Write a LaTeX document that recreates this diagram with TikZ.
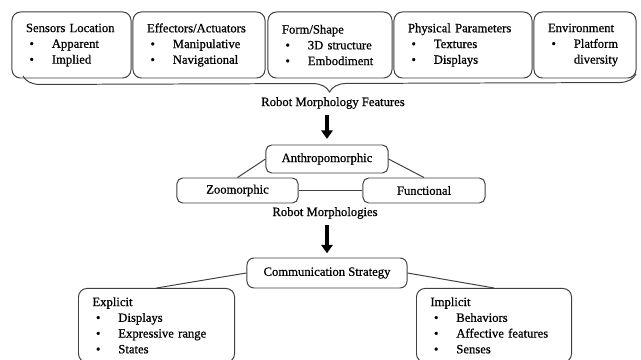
\documentclass[tikz,border=0pt]{standalone}
\usepackage{fontspec}
\setmainfont{Liberation Serif}[FakeBold=0.7]
\usepackage{tikz}
\usetikzlibrary{arrows.meta,decorations.pathreplacing}

\newcommand{\bitem}[1]{\makebox[18.4pt][l]{\hspace{2.5pt}\textbullet}#1}
\newcommand{\bcont}[1]{\hspace*{18.4pt}#1}

\begin{document}
\begin{tikzpicture}[x=0.025cm,y=-0.025cm,
  every node/.style={font=\fontsize{9}{11.2}\selectfont},
  featbox/.style={draw=black!75,line width=0.7pt,rounded corners=6pt,align=left,inner xsep=0.35cm,inner ysep=0pt,minimum height=1.65cm},
  morphbox/.style={draw=black!75,line width=0.7pt,rounded corners=4pt,inner sep=0pt,minimum height=0.625cm,minimum width=3.05cm},
  stratbox/.style={draw=black!75,line width=0.7pt,rounded corners=6pt,align=left,inner xsep=0.35cm,inner ysep=0.22cm,anchor=north west},
  link/.style={draw=black!75,line width=0.7pt},
  bigarrow/.style={line width=2.5pt,-{Triangle[width=8pt,length=6pt]}}]
\useasboundingbox (0,0) rectangle (641,360);
\clip (0,0) rectangle (641,360);
\fill[white] (0,0) rectangle (641,360);

% features
\node[featbox,text width=2.275cm] (sensors) at (71.5,45) {Sensors Location\\\bitem{Apparent}\\\bitem{Implied}};
\node[featbox,text width=2.6cm] (effectors) at (199,45) {Effectors/Actuators\\\bitem{Manipulative}\\\bitem{Navigational}};
\node[featbox,text width=2.4cm] (form) at (330,45) {Form/Shape\\\bitem{3D structure}\\\bitem{Embodiment}};
\node[featbox,text width=2.75cm] (physical) at (463,45) {Physical Parameters\\\bitem{Textures}\\\bitem{Displays}};
\node[featbox,text width=1.85cm] (environ) at (585,45) {Environment\\\bitem{Platform}\\\bcont{diversity}};

\coordinate (braceL) at (23,76);
\coordinate (braceR) at (636,74);
\draw[black!75,line width=0.7pt,decorate,decoration={brace,mirror,amplitude=0.425cm}] (braceL) -- (braceR);
\node (featlab) at (333,103) {Robot Morphology Features};

% morphologies
\node[morphbox,minimum height=0.7cm] (anthro) at (327,159) {Anthropomorphic};
\node[morphbox,minimum width=3.025cm] (zoo) at (237.5,190.5) {Zoomorphic};
\node[morphbox] (func) at (424,190.5) {Functional};
\node (morphlab) at (325,213) {Robot Morphologies};

\draw[link] (anthro.west) -- (zoo.north);
\draw[link] (anthro.east) -- (func.north);
\draw[link] (zoo.east) -- (func.west);

\draw[bigarrow,shorten <=1pt,shorten >=4pt] (featlab.south -| anthro.north) -- (anthro.north);

% strategy
\node[morphbox,minimum width=4cm,minimum height=0.75cm,rounded corners=5pt] (comm) at (327,273) {Communication Strategy};
\node[stratbox,text width=3.2cm] (expl) at (78,288) {Explicit\\\bitem{Displays}\\\bitem{Expressive range}\\\bitem{States}};
\node[stratbox,text width=3.175cm] (impl) at (416,288) {Implicit\\\bitem{Behaviors}\\\bitem{Affective features}\\\bitem{Senses}};

\draw[link] (comm.west) -- (expl.north);
\draw[link] (comm.east) -- (impl.north);

\draw[bigarrow,shorten <=1pt,shorten >=3pt] (morphlab.south -| comm.north) -- (comm.north);
\end{tikzpicture}
\end{document}
